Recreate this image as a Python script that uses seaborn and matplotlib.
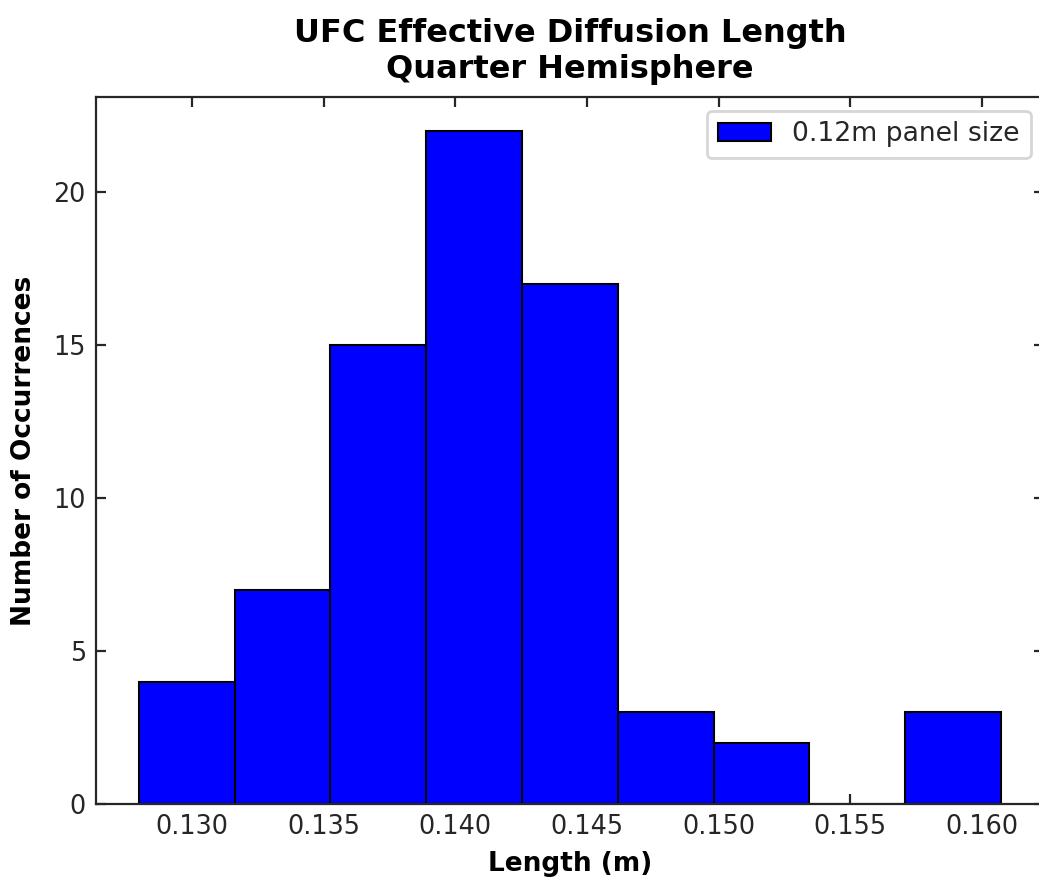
import numpy as np
import pandas as pd
import matplotlib
matplotlib.use("Agg")
import matplotlib.pyplot as plt
import seaborn as sns

# Histogram of effective diffusion lengths (bin counts per length bin)
bin_lo = 0.127978
bin_hi = 0.160722
n_bins = 9
counts = [4, 7, 15, 22, 17, 3, 2, 0, 3]
series_label = "0.12m panel size"
x_ticks = [0.130, 0.135, 0.140, 0.145, 0.150, 0.155, 0.160]
y_ticks = [0, 5, 10, 15, 20]

edges = np.linspace(bin_lo, bin_hi, n_bins + 1)
df = pd.DataFrame({
    "length": (edges[:-1] + edges[1:]) / 2,
    "count": counts,
})

sns.set_style("ticks", {
    "xtick.direction": "in",
    "ytick.direction": "in",
    "xtick.top": True,
    "ytick.right": True,
})
plt.rcParams["font.family"] = ["DejaVu Sans"]

fig = plt.figure(figsize=(5.195, 4.41), dpi=200)
ax = fig.add_axes([0.0921, 0.0884, 0.9127, 0.8013])

sns.histplot(data=df, x="length", weights="count", bins=n_bins,
             binrange=(bin_lo, bin_hi), color="blue",
             edgecolor="black", linewidth=0.75, alpha=1.0,
             label=series_label, ax=ax)

ax.set_xticks(x_ticks)
ax.set_xticklabels([f"{t:.3f}" for t in x_ticks])
ax.set_yticks(y_ticks)
ax.tick_params(axis="both", labelsize=9.2, length=3.5, width=0.8)

ax.set_title("UFC Effective Diffusion Length\nQuarter Hemisphere",
             fontsize=11.5, fontweight="bold", color="black", pad=7)
ax.set_xlabel("Length (m)", fontsize=9.5, fontweight="bold", color="black")
ax.set_ylabel("Number of Occurrences", fontsize=9.5, fontweight="bold",
              color="black", labelpad=6)

ax.legend(loc="upper right", fontsize=9.6)

fig.savefig("out.png", dpi=200)
